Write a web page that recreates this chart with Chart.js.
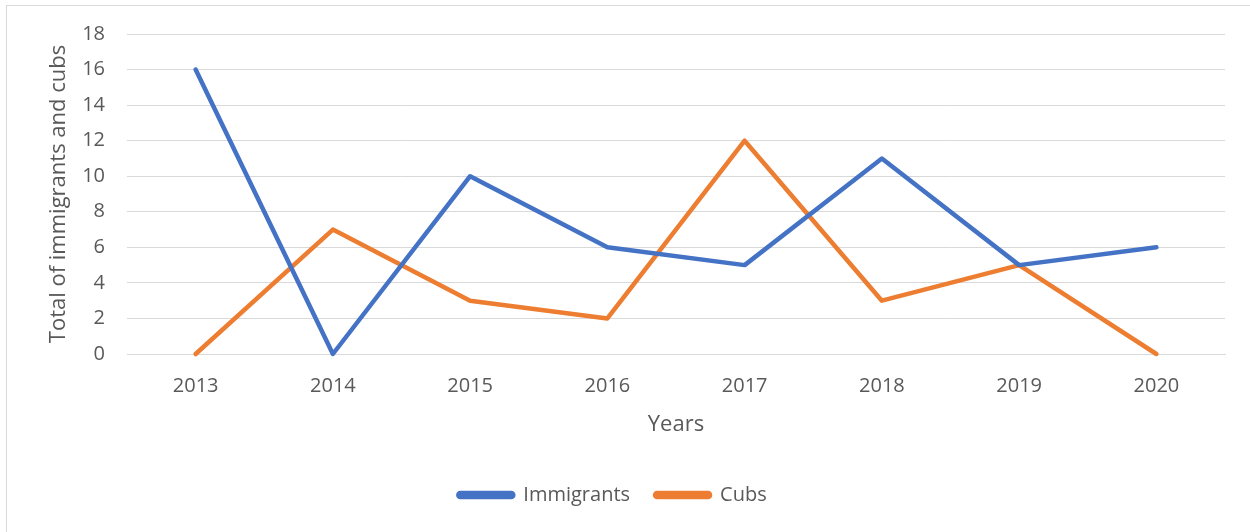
<!DOCTYPE html>
<html>
<head>
<meta charset="utf-8">
<title>Immigrants and cubs</title>
<script src="https://cdn.jsdelivr.net/npm/chart.js@4/dist/chart.umd.min.js"></script>
<style>
    body { margin: 0; background: #fff; overflow: hidden; }
    #frame {
        position: absolute; left: 6px; top: 5px;
        width: 1250px; height: 540px;
        border: 1px solid #d9d9d9;
    }
    #chart { position: absolute; left: 0; top: 0; }
</style>
</head>
<body>
<div id="frame"></div>
<canvas id="chart" width="1250" height="532"></canvas>
<script>
// Yearly counts
const years = ['2013', '2014', '2015', '2016', '2017', '2018', '2019', '2020'];
const immigrants = [16, 0, 10, 6, 5, 11, 5, 6];
const cubs = [0, 7, 3, 2, 12, 3, 5, 0];

const textColor = '#595959';
const gridColor = '#d9d9d9';
const fontFamily = '"Open Sans", sans-serif';

// Shared look for both series lines
function lineStyle(color) {
    return {
        borderColor: color,
        backgroundColor: color,
        borderWidth: 4.5,
        borderCapStyle: 'round',
        borderJoinStyle: 'round',
        pointRadius: 0,
        tension: 0,
        clip: false
    };
}

const ctx = document.getElementById('chart').getContext('2d');
let lineChart = new Chart(ctx, {
    type: 'line',
    data: {
        labels: years,
        datasets: [
            { label: 'Immigrants', data: immigrants, ...lineStyle('#4472c4') },
            { label: 'Cubs', data: cubs, ...lineStyle('#ed7d31') }
        ]
    },
    options: {
        responsive: false,
        animation: false,
        layout: { padding: { top: 34, right: 25, left: 0, bottom: 17 } },
        plugins: {
            tooltip: { enabled: false },
            legend: {
                position: 'bottom',
                labels: {
                    color: textColor,
                    font: { family: fontFamily, size: 20 },
                    boxWidth: 55,
                    boxHeight: 4,
                    useBorderRadius: true,
                    borderRadius: 2,
                    padding: 25
                }
            }
        },
        scales: {
            x: {
                offset: true,
                grid: { display: false, drawTicks: false },
                border: { color: gridColor, width: 1 },
                ticks: {
                    color: textColor,
                    font: { family: fontFamily, size: 20 },
                    padding: 20,
                    maxRotation: 0
                },
                title: {
                    display: true,
                    text: 'Years',
                    color: textColor,
                    font: { family: fontFamily, size: 22 },
                    padding: { top: 0, bottom: 22 }
                },
                afterFit: scale => { scale.height = 106; }
            },
            y: {
                min: 0,
                max: 18,
                ticks: {
                    stepSize: 2,
                    color: textColor,
                    font: { family: fontFamily, size: 20 },
                    padding: 22
                },
                grid: { color: gridColor, lineWidth: 1, drawTicks: false },
                border: { display: false },
                title: {
                    display: true,
                    text: 'Total of immigrants and cubs',
                    color: textColor,
                    font: { family: fontFamily, size: 22 },
                    padding: { top: 46, bottom: 0 }
                },
                afterFit: scale => { scale.width = 127; }
            }
        }
    }
});
</script>
</body>
</html>
